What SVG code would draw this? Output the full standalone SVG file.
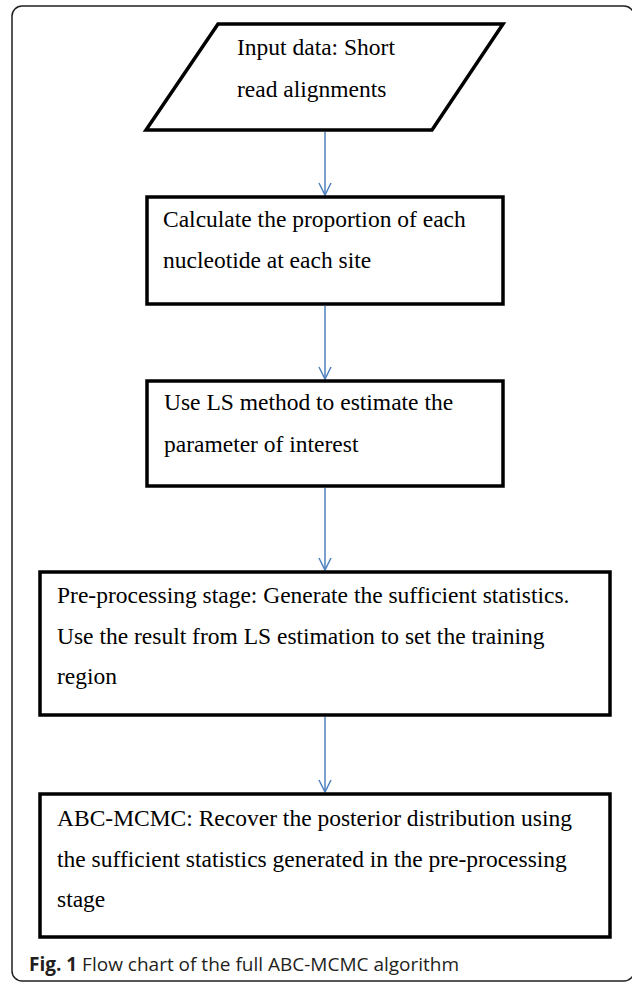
<svg xmlns="http://www.w3.org/2000/svg" width="632" height="983" viewBox="0 0 632 983">
<style>
.node{fill:#fff;stroke:#000;stroke-width:3.5;stroke-linejoin:miter}
.t{font-family:"Liberation Serif","Times New Roman",serif;font-size:23.5px;fill:#000}
.conn{stroke:#4f81bd;stroke-width:1.5;fill:none;marker-end:url(#ah)}
.cap{font-family:"Open Sans","Liberation Sans",sans-serif;font-size:19px;fill:#231f20}
</style>
<defs>
<marker id="ah" viewBox="-14 -8 16 16" markerWidth="16" markerHeight="16" refX="0" refY="0" orient="auto" markerUnits="userSpaceOnUse">
<path d="M-12,-6 L0,0 L-12,6" fill="none" stroke="#4f81bd" stroke-width="1.5"/>
</marker>
</defs>
<rect x="12" y="6" width="622" height="975" rx="10" ry="10" fill="#fff" stroke="#231f20" stroke-width="1.5"/>
<g id="connectors">
<line class="conn" x1="325" y1="132" x2="325" y2="195"/>
<line class="conn" x1="325" y1="306" x2="325" y2="379"/>
<line class="conn" x1="325" y1="488" x2="325" y2="570"/>
<line class="conn" x1="325" y1="717" x2="325" y2="792"/>
</g>
<g id="n1">
<polygon class="node" points="218,24 503,24 432,130 146,130" stroke-width="4"/>
<text class="t" x="237" y="55">Input data: Short</text>
<text class="t" x="237" y="97">read alignments</text>
</g>
<g id="n2">
<rect class="node" x="147" y="197" width="356" height="107"/>
<text class="t" x="163" y="227">Calculate the proportion of each</text>
<text class="t" x="163" y="268">nucleotide at each site</text>
</g>
<g id="n3">
<rect class="node" x="147" y="381" width="356" height="105"/>
<text class="t" x="164" y="410">Use LS method to estimate the</text>
<text class="t" x="164" y="452">parameter of interest</text>
</g>
<g id="n4">
<rect class="node" x="40" y="572" width="570" height="143"/>
<text class="t" x="57" y="603">Pre-processing stage: Generate the sufficient statistics.</text>
<text class="t" x="57" y="644">Use the result from LS estimation to set the training</text>
<text class="t" x="57" y="684">region</text>
</g>
<g id="n5">
<rect class="node" x="40" y="794" width="570" height="143"/>
<text class="t" x="57" y="826">ABC-MCMC: Recover the posterior distribution using</text>
<text class="t" x="57" y="867">the sufficient statistics generated in the pre-processing</text>
<text class="t" x="57" y="907">stage</text>
</g>
<text class="cap" x="29" y="971"><tspan font-weight="700">Fig. 1</tspan> Flow chart of the full ABC-MCMC algorithm</text>
</svg>
